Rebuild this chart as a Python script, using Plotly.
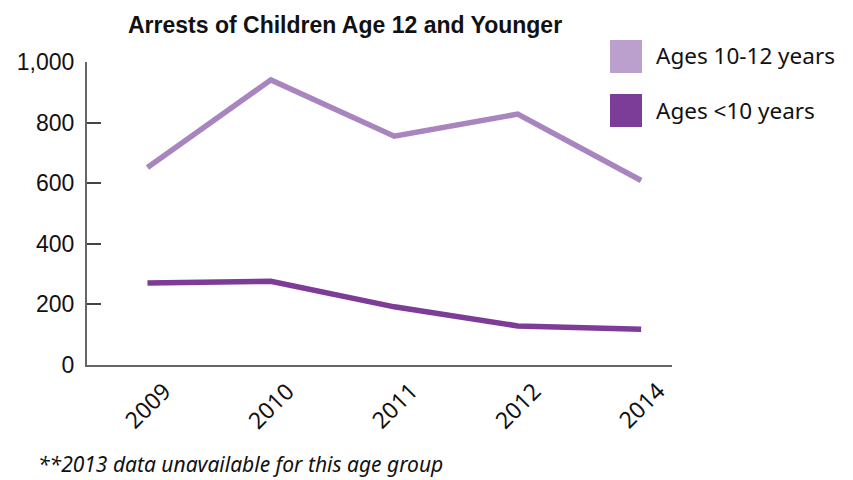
import plotly.graph_objects as go

years = ["2009", "2010", "2011", "2012", "2014"]
ages_10_12 = [652, 941, 755, 828, 609]
ages_under_10 = [271, 276, 192, 129, 118]
y_ticks = [0, 200, 400, 600, 800, 1000]

light = "#A885BE"
dark = "#7D3C98"
legend_light = "#BBA0CE"
legend_dark = "#7B3D97"

fig = go.Figure()
fig.add_trace(go.Scatter(x=years, y=ages_10_12, mode="lines", name="Ages 10-12 years",
                         line=dict(color=light, width=5.5), showlegend=False))
fig.add_trace(go.Scatter(x=years, y=ages_under_10, mode="lines", name="Ages <10 years",
                         line=dict(color=dark, width=5.5), showlegend=False))

fig.update_layout(
    width=853, height=480,
    margin=dict(l=87, r=181, t=62, b=115),
    plot_bgcolor="white", paper_bgcolor="white",
    font=dict(family="Liberation Sans, Arial, sans-serif", color="#111"),
    xaxis=dict(type="category", range=[-0.49, 4.25], showgrid=False, showline=True,
               linecolor="#666", linewidth=2, ticks="", showticklabels=False,
               zeroline=False),
    yaxis=dict(range=[0, 1000], tickvals=y_ticks, tickformat=",d", showgrid=False,
               showline=True, linecolor="#666", linewidth=2, ticks="inside", ticklen=14,
               tickcolor="#444", tickwidth=1.5, zeroline=False,
               tickfont=dict(size=23, color="#111"), ticklabelstandoff=6),
)

# rotated category labels, centred under each category (x given as category index)
for i, yr in enumerate(years):
    fig.add_annotation(text=yr, x=i, xref="x", y=0, yref="paper", yshift=-40,
                       xanchor="center", yanchor="middle", textangle=-45, showarrow=False,
                       font=dict(size=23, family="Noto Sans, Liberation Sans, sans-serif", color="#111"))

fig.add_annotation(text="<b>Arrests of Children Age 12 and Younger</b>", xref="paper", yref="paper",
                   x=(345 - 87) / 585, y=(480 - 25 - 115) / 303, xanchor="center", yanchor="middle",
                   showarrow=False,
                   font=dict(size=23, family="Liberation Sans Narrow, Arial Narrow, Liberation Sans, sans-serif", color="#111"))

# legend drawn manually
for i, (label, col) in enumerate([("Ages 10-12 years", legend_light), ("Ages <10 years", legend_dark)]):
    y0 = 40 + i * 54
    fig.add_shape(type="rect", xref="paper", yref="paper",
                  x0=(610 - 87) / 585, x1=(642 - 87) / 585,
                  y0=(480 - 115 - (y0 + 33)) / 303, y1=(480 - 115 - y0) / 303,
                  fillcolor=col, line=dict(width=0))
    fig.add_annotation(text=label, xref="paper", yref="paper",
                       x=(654 - 87) / 585, y=(480 - 115 - (y0 + 16)) / 303,
                       xanchor="left", yanchor="middle", showarrow=False,
                       font=dict(size=22.5, family="Noto Sans, Liberation Sans, sans-serif", color="#111"))

fig.add_annotation(text="<i>**2013 data unavailable for this age group</i>", xref="paper", yref="paper",
                   x=(36 - 87) / 585, y=(480 - 115 - 464) / 303, xanchor="left", yanchor="middle",
                   showarrow=False,
                   font=dict(size=21, family="Noto Sans, Liberation Sans, sans-serif", color="#111"))

fig.write_html("out.html")
